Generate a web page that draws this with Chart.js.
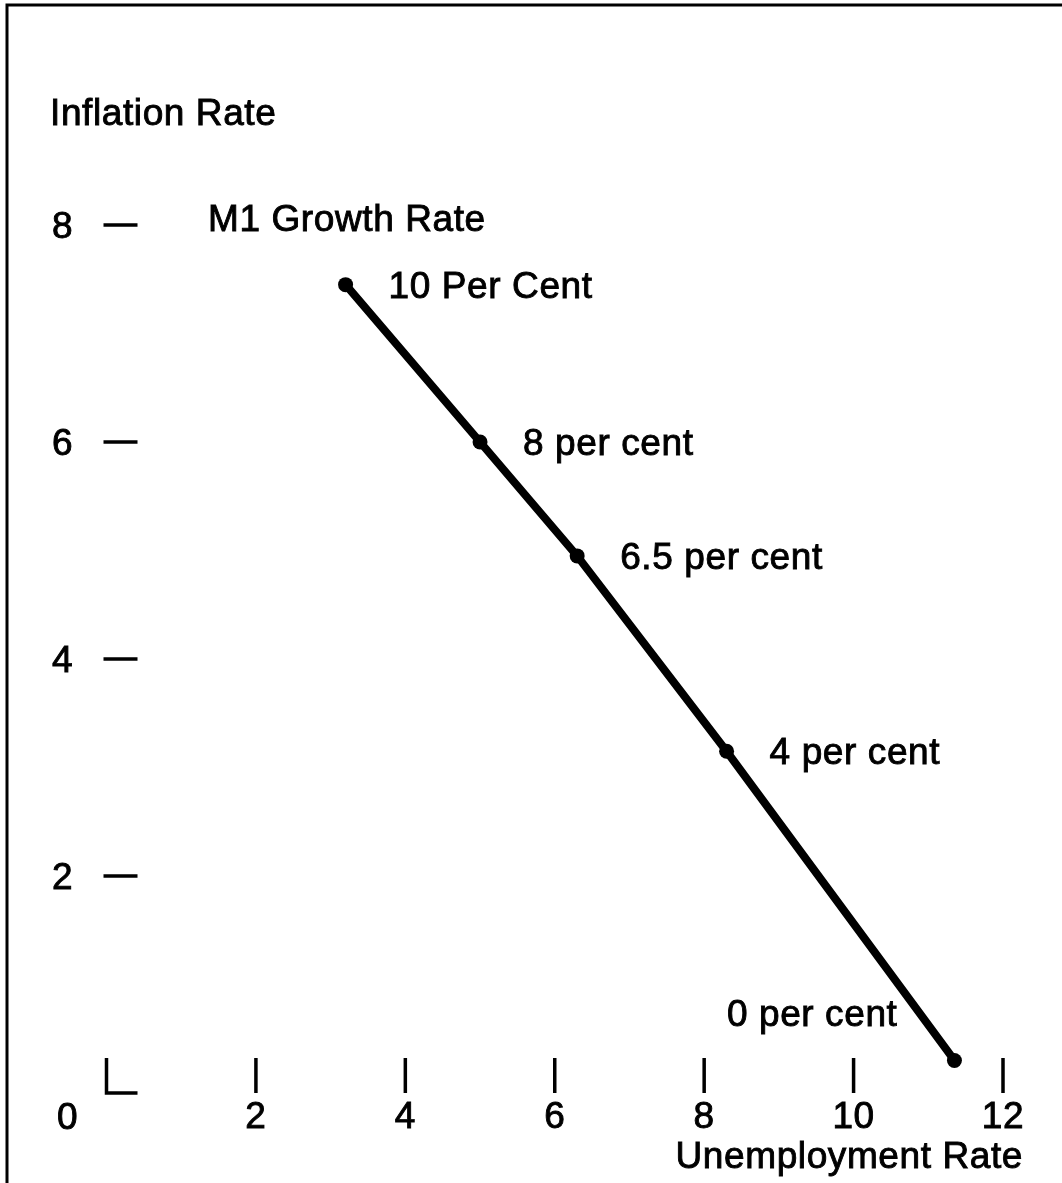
<!DOCTYPE html>
<html>
<head>
<meta charset="utf-8">
<script src="https://cdn.jsdelivr.net/npm/chart.js@4/dist/chart.umd.min.js"></script>
<style>
  html, body { margin: 0; padding: 0; background: #fff; }
  canvas { display: block; }
</style>
</head>
<body>
<canvas id="myChart" width="1062" height="1183"></canvas>
<script>
// M1 growth rate scenarios: unemployment vs inflation
const growthLabels = ['10 Per Cent', '8 per cent', '6.5 per cent', '4 per cent', '0 per cent'];
const unemployment = [3.2, 5.0, 6.3, 8.3, 11.35];
const inflation = [7.45, 6.0, 4.95, 3.15, 0.3];
const xTicks = [2, 4, 6, 8, 10, 12];
const yTicks = [2, 4, 6, 8];

const FONT = '37px "Liberation Sans", Arial, Helvetica, sans-serif';

// text with a hairline stroke so it reads as heavy as the printed original
function label(ctx, txt, x, y) {
    ctx.fillText(txt, x, y);
    ctx.strokeText(txt, x, y);
}

const axesPlugin = {
    id: 'handAxes',
    afterDraw(chart) {
        const ctx = chart.ctx;
        const xs = chart.scales.x;
        const ys = chart.scales.y;
        const x0 = xs.getPixelForValue(0);
        const y0 = ys.getPixelForValue(0);
        ctx.save();

        // frame
        ctx.strokeStyle = '#000';
        ctx.lineWidth = 3;
        ctx.beginPath();
        ctx.moveTo(7, chart.height);
        ctx.lineTo(7, 5);
        ctx.lineTo(chart.width, 5);
        ctx.stroke();

        // tick marks pointing inward, forming the corner at the origin
        ctx.lineWidth = 3.5;
        ctx.beginPath();
        ctx.moveTo(x0, y0 - 35);
        ctx.lineTo(x0, y0);
        ctx.lineTo(x0 + 31, y0);
        xTicks.forEach(v => {
            const px = xs.getPixelForValue(v);
            ctx.moveTo(px, y0);
            ctx.lineTo(px, y0 - 35);
        });
        yTicks.forEach(v => {
            const py = ys.getPixelForValue(v);
            ctx.moveTo(x0 - 3, py);
            ctx.lineTo(x0 + 31, py);
        });
        ctx.stroke();

        ctx.fillStyle = '#000';
        ctx.lineWidth = 0.9;
        ctx.font = FONT;
        ctx.letterSpacing = '0.6px';
        ctx.textBaseline = 'alphabetic';

        // tick labels
        ctx.textAlign = 'center';
        xTicks.forEach(v => {
            label(ctx, String(v), xs.getPixelForValue(v), y0 + 35);
        });
        yTicks.forEach(v => {
            label(ctx, String(v), x0 - 44, ys.getPixelForValue(v) + 13);
        });
        label(ctx, '0', x0 - 39, y0 + 36);

        // axis titles
        ctx.textAlign = 'left';
        label(ctx, 'Inflation Rate', 50, 125);
        label(ctx, 'M1 Growth Rate', 208, 231);
        ctx.textAlign = 'right';
        label(ctx, 'Unemployment Rate', 1023, 1168);

        // point labels
        const meta = chart.getDatasetMeta(0);
        meta.data.forEach((pt, i) => {
            const last = i === meta.data.length - 1;
            ctx.textAlign = last ? 'right' : 'left';
            const tx = last ? pt.x - 57 : pt.x + 43;
            const ty = last ? pt.y - 34 : pt.y + 13;
            label(ctx, growthLabels[i], tx, ty);
        });
        ctx.restore();
    }
};

const ctx = document.getElementById('myChart');
new Chart(ctx, {
    type: 'scatter',
    data: {
        datasets: [{
            label: 'M1 Growth Rate',
            data: unemployment.map((u, i) => ({ x: u, y: inflation[i] })),
            showLine: true,
            borderColor: '#000',
            borderWidth: 8,
            backgroundColor: '#000',
            pointRadius: 7.5,
            pointBorderWidth: 0,
            clip: false
        }]
    },
    options: {
        responsive: false,
        animation: false,
        layout: {
            padding: { left: 106.5, right: 59, top: 225, bottom: 90 }
        },
        scales: {
            x: { type: 'linear', min: 0, max: 12, display: false },
            y: { type: 'linear', min: 0, max: 8, display: false }
        },
        plugins: {
            legend: { display: false },
            tooltip: { enabled: false }
        }
    },
    plugins: [axesPlugin]
});
</script>
</body>
</html>
